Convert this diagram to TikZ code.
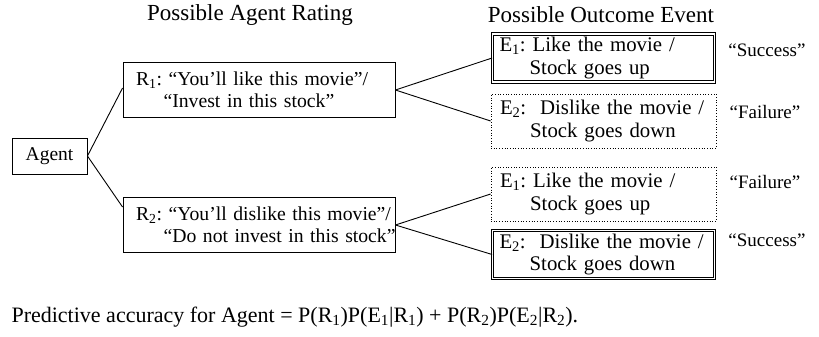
\documentclass[tikz,border=0pt]{standalone}
\usepackage{fontspec}
\setmainfont{Liberation Serif}
\usetikzlibrary{positioning,calc}

\tikzset{
  ratebox/.style={draw,line width=0.9pt,minimum width=272pt,minimum height=55pt,inner xsep=13pt,text width=246pt,align=left,font=\fontsize{19.7}{22.5}\selectfont},
  hitbox/.style={draw,double,line width=0.8pt,double distance=1.6pt,minimum width=222pt,minimum height=48pt,inner xsep=7pt,text width=208pt,align=left,font=\fontsize{20.8}{22.5}\selectfont},
  missbox/.style={draw,dotted,line width=0.7pt,minimum width=225pt,minimum height=54pt,inner xsep=9pt,text width=207pt,align=left,font=\fontsize{20.8}{22.5}\selectfont},
  outlabel/.style={font=\fontsize{19}{22}\selectfont}
}

\begin{document}
\frenchspacing
\begin{tikzpicture}[x=1pt,y=-1pt,font=\fontsize{19.5}{22}\selectfont]
    \useasboundingbox (0,0) rectangle (819,337);

    \node (head1) at (250,15) {\fontsize{23}{26}\selectfont Possible Agent Rating};
    \node (head2) at (601,15) {\fontsize{23}{26}\selectfont Possible Outcome Event};

    \node[draw,line width=0.9pt,minimum width=75pt,minimum height=36pt] (agent) at (49.5,156) {Agent};

    \node[ratebox] (R1) at (259,90) {\mbox{R\textsubscript{1}: “You’ll like this movie”/}\\\hspace*{1.4em}\mbox{“Invest in this stock”}};
    \node[ratebox] (R2) at (259,225) {\mbox{R\textsubscript{2}: “You’ll dislike this movie”/}\\\hspace*{1.4em}\mbox{“Do not invest in this stock”}};

    \node[hitbox] (R1E1) at (603.5,58) {\mbox{E\textsubscript{1}: Like the movie /}\\\hspace*{1.45em}\mbox{Stock goes up}};
    \node[missbox] (R1E2) at (603.5,121) {\mbox{E\textsubscript{2}:\ \ Dislike the movie /}\\\hspace*{1.45em}\mbox{Stock goes down}};
    \node[missbox] (R2E1) at (603.5,194) {\mbox{E\textsubscript{1}: Like the movie /}\\\hspace*{1.45em}\mbox{Stock goes up}};
    \node[hitbox] (R2E2) at (603.5,254.5) {\mbox{E\textsubscript{2}:\ \ Dislike the movie /}\\\hspace*{1.45em}\mbox{Stock goes down}};

    \node[outlabel] (S1) at (767,50) {“Success”};
    \node[outlabel] (F1) at (765,112) {“Failure”};
    \node[outlabel] (F2) at (765,182) {“Failure”};
    \node[outlabel] (S2) at (767,240) {“Success”};

    % tree branches
    \draw[line width=0.9pt] (agent.east) -- ([yshift=2pt]R1.west);
    \draw[line width=0.9pt] (agent.east) -- ([yshift=18pt]R2.west);
    \draw[line width=0.9pt] (R1.east) -- (R1E1.west);
    \draw[line width=0.9pt] (R1.east) -- (R1E2.west);
    \draw[line width=0.9pt] (R2.east) -- (R2E1.west);
    \draw[line width=0.9pt] (R2.east) -- (R2E2.west);

    \node[anchor=west,font=\fontsize{22}{24}\selectfont] (acc) at (8,317) {Predictive accuracy for Agent = P(R\textsubscript{1})P(E\textsubscript{1}|R\textsubscript{1}) + P(R\textsubscript{2})P(E\textsubscript{2}|R\textsubscript{2}).};
\end{tikzpicture}
\end{document}
